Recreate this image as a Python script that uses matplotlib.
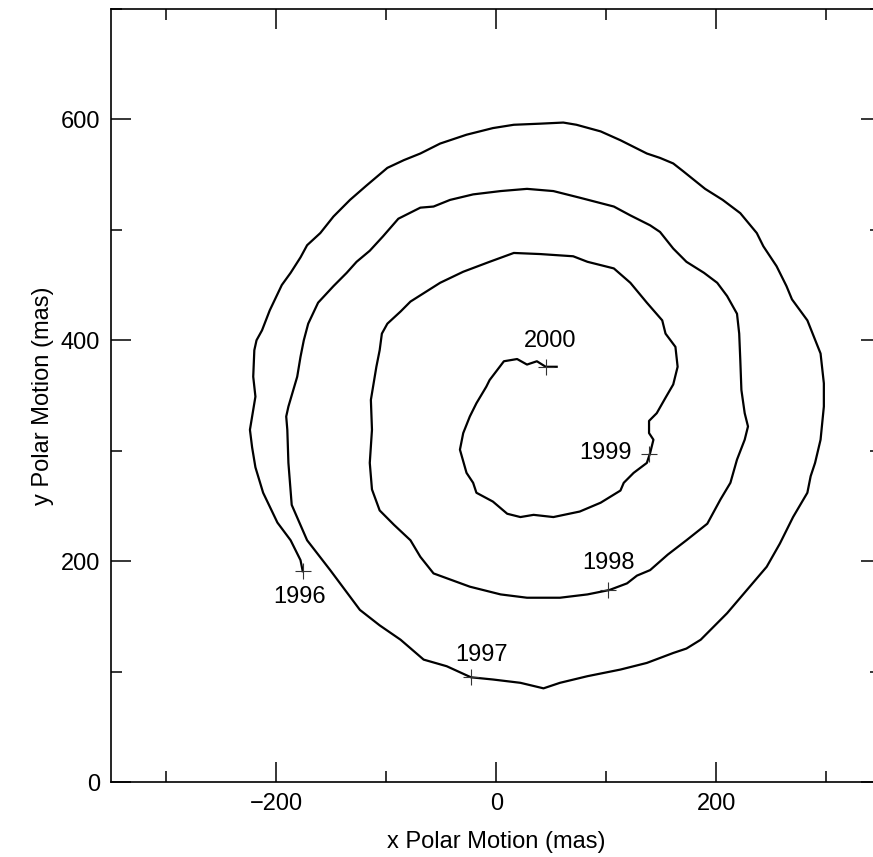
import matplotlib.pyplot as plt
import numpy as np
from matplotlib.ticker import MultipleLocator

plt.rcParams["font.family"] = ["Liberation Sans", "DejaVu Sans"]

# polar motion path 1996 -> 2000 (mas)
pm_x = [
    -176, -178, -187, -199, -212, -219, -222, -224, -222, -219, -221, -220, -218, -213,
    -206, -195, -187, -178, -172, -160, -148, -133, -118, -99, -84, -69, -51, -27, -3,
    16, 40, 61, 73, 95, 113, 137, 149, 161, 170, 190, 206, 222, 237, 243, 255, 264, 269,
    283, 295, 298, 298, 295, 290, 286, 283, 270, 258, 246, 228, 210, 195, 186, 173, 161,
    137, 113, 83, 58, 43, 22, -3, -23, -45, -66, -87, -106, -124, -151, -172, -186, -189,
    -190, -191, -189, -181, -178, -175, -171, -162, -148, -136, -127, -115, -103, -89,
    -69, -57, -42, -21, 4, 28, 52, 76, 107, 122, 140, 149, 161, 173, 189, 201, 210, 219,
    221, 222, 223, 226, 229, 226, 219, 213, 204, 192, 173, 156, 140, 128, 119, 103, 83,
    58, 28, 4, -24, -57, -69, -78, -93, -106, -113, -115, -113, -114, -112, -109, -106,
    -104, -99, -87, -78, -51, -30, -6, 16, 40, 70, 83, 107, 122, 137, 151, 154, 163, 165,
    161, 154, 146, 139, 139, 143, 140, 137, 125, 116, 113, 95, 76, 52, 34, 22, 10, -3,
    -18, -21, -27, -33, -30, -24, -18, -9, -6, 7, 19, 28, 37, 45, 55,
]
pm_y = [
    191, 201, 219, 235, 262, 285, 303, 319, 331, 349, 367, 391, 400, 409, 427, 450, 461,
    475, 486, 497, 512, 527, 540, 556, 563, 569, 578, 586, 592, 595, 596, 597, 595, 589,
    581, 569, 565, 560, 553, 537, 527, 515, 497, 485, 467, 449, 437, 418, 388, 361, 340,
    310, 289, 277, 262, 240, 216, 195, 174, 153, 138, 129, 121, 117, 108, 102, 96, 90, 85,
    90, 93, 95, 105, 111, 129, 142, 156, 192, 219, 251, 289, 319, 331, 340, 367, 385, 400,
    415, 434, 449, 461, 471, 481, 494, 510, 520, 521, 527, 532, 535, 537, 535, 529, 521,
    513, 504, 498, 483, 471, 461, 452, 440, 424, 406, 382, 355, 334, 322, 310, 292, 271,
    256, 234, 219, 206, 192, 187, 180, 174, 170, 167, 167, 170, 177, 189, 204, 219, 233,
    246, 265, 289, 319, 346, 358, 376, 391, 406, 415, 426, 435, 452, 462, 471, 479, 478,
    476, 471, 465, 452, 434, 418, 406, 394, 376, 360, 348, 334, 327, 316, 310, 298, 289,
    280, 271, 264, 253, 245, 240, 242, 240, 243, 254, 262, 271, 280, 301, 316, 331, 343,
    358, 364, 381, 383, 378, 381, 376, 376,
]

# start-of-year markers and their labels
years = ["1996", "1997", "1998", "1999", "2000"]
year_x = [-176, -23, 102, 139, 45]
year_y = [191, 95, 174, 297, 376]
label_x = [-179, -13, 102, 99, 49]
label_y = [168, 115, 198, 298, 399]

fig = plt.figure(figsize=(8.73, 8.57), dpi=100)
ax = fig.add_axes([0.1276, 0.0872, 0.8816, 0.9026])

ax.plot(pm_x, pm_y, color="black", linewidth=1.6, solid_joinstyle="round")
ax.plot(year_x, year_y, linestyle="none", marker="+", markersize=11,
        markeredgewidth=0.8, color="#333333")
for name, tx, ty in zip(years, label_x, label_y):
    ax.text(tx, ty, name, ha="center", va="center", fontsize=17)

ax.set_xlim(-350, 350)
ax.set_ylim(0, 700)
ax.xaxis.set_major_locator(MultipleLocator(200))
ax.xaxis.set_minor_locator(MultipleLocator(100))
ax.yaxis.set_major_locator(MultipleLocator(200))
ax.yaxis.set_minor_locator(MultipleLocator(100))
ax.tick_params(which="both", direction="in", top=True, right=True, width=1.1,
               labelsize=17, pad=8)
ax.tick_params(which="major", length=14.5)
ax.tick_params(which="minor", length=8)
for spine in ax.spines.values():
    spine.set_linewidth(1.2)

ax.set_xlabel("x Polar Motion (mas)", fontsize=17, labelpad=11)
ax.set_ylabel("y Polar Motion (mas)", fontsize=17, labelpad=5)

fig.savefig("out.png", dpi=100)
